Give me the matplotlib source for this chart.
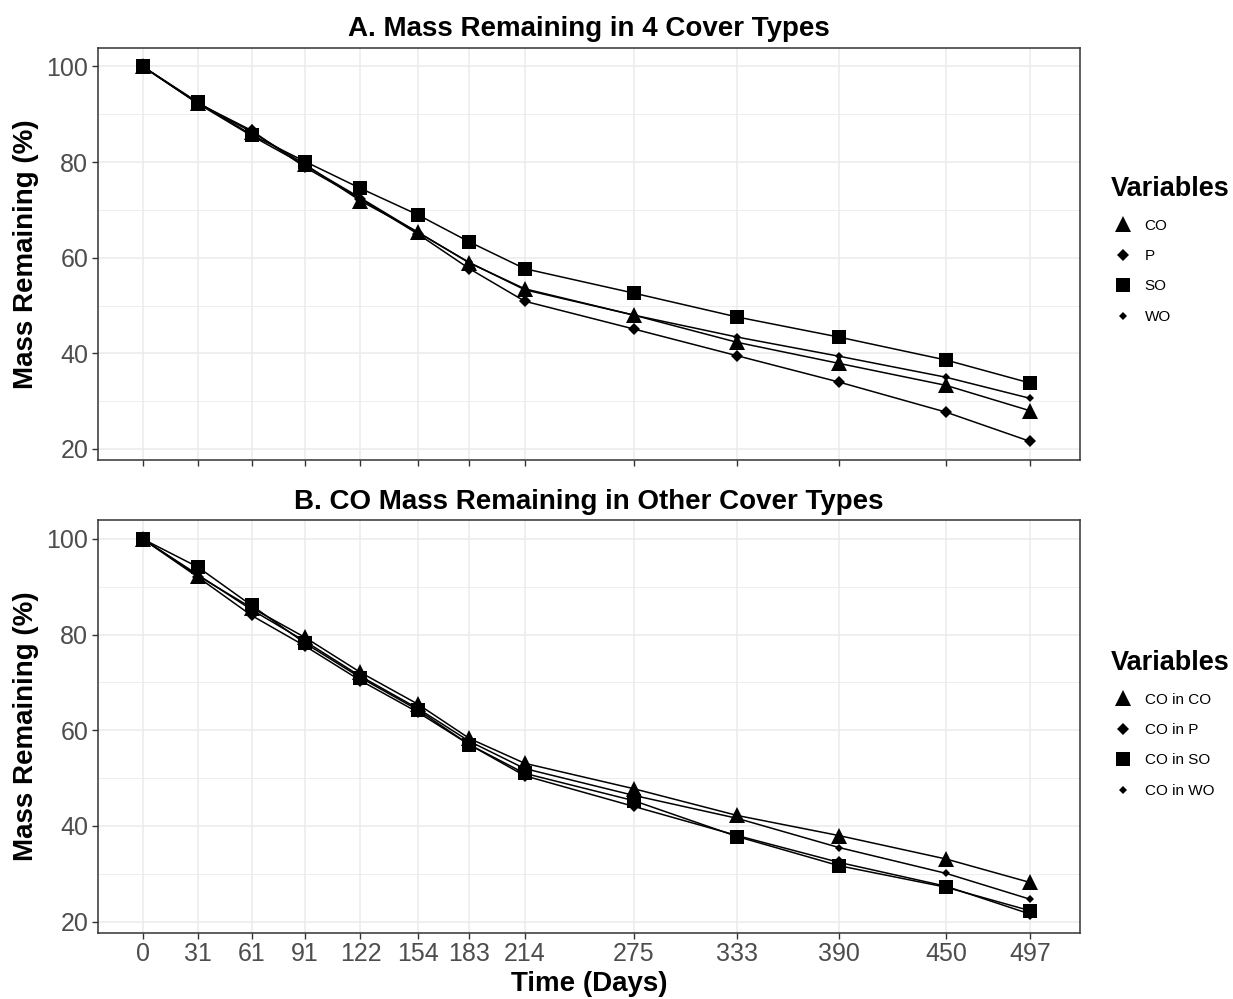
import matplotlib
matplotlib.use("Agg")
import matplotlib.pyplot as plt
from matplotlib.ticker import FixedLocator

plt.rcParams['font.family'] = ['Liberation Sans', 'DejaVu Sans']

days = [0, 31, 61, 91, 122, 154, 183, 214, 275, 333, 390, 450, 497]

# Panel A: mass remaining in 4 cover types
a_labels = ["CO", "P", "SO", "WO"]
a_CO = [100, 92.3, 86.3, 79.5, 71.9, 65.4, 58.9, 53.5, 48.0, 42.3, 37.9, 33.3, 28.0]
a_P = [100, 92.3, 86.6, 78.9, 72.3, 65.0, 57.7, 50.9, 45.1, 39.5, 34.0, 27.7, 21.6]
a_SO = [100, 92.5, 85.7, 80.1, 74.5, 69.0, 63.3, 57.7, 52.6, 47.6, 43.4, 38.6, 33.8]
a_WO = [100, 92.2, 85.5, 79.3, 72.5, 65.3, 59.0, 53.3, 48.0, 43.4, 39.4, 35.0, 30.6]

# Panel B: CO mass remaining in other cover types
b_labels = ["CO in CO", "CO in P", "CO in SO", "CO in WO"]
b_CO = [100, 92.3, 85.6, 79.4, 72.1, 65.5, 58.3, 53.1, 47.8, 42.2, 38.0, 33.1, 28.2]
b_P = [100, 92.0, 84.0, 77.6, 70.4, 63.8, 57.0, 50.5, 44.1, 38.0, 32.4, 27.4, 21.6]
b_SO = [100, 94.1, 86.1, 78.2, 71.0, 64.3, 57.0, 51.0, 45.3, 37.8, 31.7, 27.2, 22.3]
b_WO = [100, 92.5, 85.2, 78.6, 71.3, 64.6, 57.7, 52.0, 46.4, 41.6, 35.5, 30.1, 24.7]

yticks = [20, 40, 60, 80, 100]

W, H = 1233, 999
fig = plt.figure(figsize=(W / 100, H / 100), dpi=100)

def px_axes(left, top, right, bottom):
    return fig.add_axes([left / W, (H - bottom) / H, (right - left) / W, (bottom - top) / H])

axA = px_axes(98, 47.5, 1080, 460)
axB = px_axes(98, 520, 1080, 932.7)

styles = [
    dict(marker="^", markersize=11),
    dict(marker="D", markersize=6.6),
    dict(marker="s", markersize=10),
    dict(marker="D", markersize=4.4),
]

def draw(ax, series, labels, title, show_xlabels):
    handles = []
    for vals, lab, st in zip(series, labels, styles):
        h, = ax.plot(days, vals, color="black", linewidth=1.1, label=lab,
                     markeredgewidth=0, markerfacecolor="black", zorder=3, **st)
        handles.append(h)
    ax.set_xlim(-25, 525)
    ax.set_ylim(17.7, 103.95)
    ax.xaxis.set_major_locator(FixedLocator(days))
    ax.yaxis.set_major_locator(FixedLocator(yticks))
    ax.yaxis.set_minor_locator(FixedLocator([30, 50, 70, 90]))
    ax.grid(True, which="major", color="#EBEBEB", linewidth=1.1, zorder=0)
    ax.grid(True, which="minor", axis="y", color="#EBEBEB", linewidth=0.6, zorder=0)
    ax.set_axisbelow(True)
    for s in ax.spines.values():
        s.set_color("#333333")
        s.set_linewidth(1.1)
    ax.tick_params(axis="both", which="major", length=4, width=1.0, color="#333333",
                   labelsize=18, labelcolor="#4D4D4D", pad=3)
    ax.tick_params(axis="both", which="minor", length=0)
    if show_xlabels:
        ax.set_xticklabels([str(d) for d in days])
    else:
        ax.set_xticklabels([])
    ax.set_yticklabels([str(v) for v in yticks])
    ax.set_ylabel("Mass Remaining (%)", fontsize=20, fontweight="bold", labelpad=5)
    ax.set_title(title, fontsize=20, fontweight="bold", pad=8)
    return handles

hA = draw(axA, [a_CO, a_P, a_SO, a_WO], a_labels, "A. Mass Remaining in 4 Cover Types", False)
hB = draw(axB, [b_CO, b_P, b_SO, b_WO], b_labels, "B. CO Mass Remaining in Other Cover Types", True)
axB.set_xlabel("Time (Days)", fontsize=20, fontweight="bold", labelpad=3)

def legend(handles, labels, ycenter):
    leg = fig.legend(handles, labels, title="Variables", loc="center left",
                     bbox_to_anchor=(1105 / W, (H - ycenter) / H), frameon=False,
                     fontsize=11, title_fontproperties={"weight": "bold", "size": 19.5},
                     handlelength=1.6, handletextpad=0.6, labelspacing=1.08,
                     borderaxespad=0, alignment="left")
    for lh in leg.legend_handles:
        lh.set_linestyle("None")
    return leg

legend(hA, a_labels, 250)
legend(hB, b_labels, 724)

fig.savefig("out.png", dpi=100)
